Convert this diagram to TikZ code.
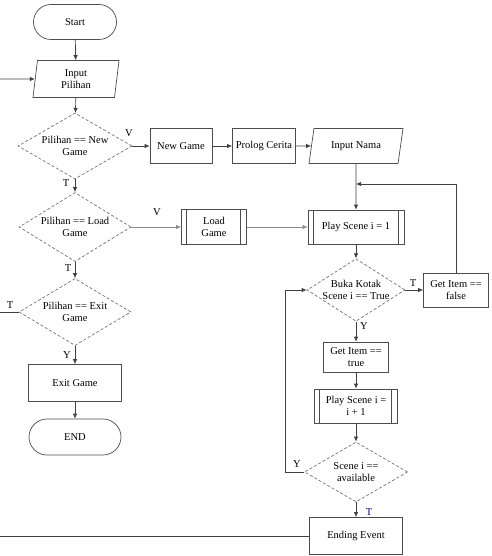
\documentclass[tikz,border=0pt]{standalone}
\usepackage{fontspec}
\setmainfont{Liberation Serif}
\usetikzlibrary{shapes.geometric,shapes.misc,arrows.meta}

\tikzstyle{base}=[draw=black!70, line width=0.7pt, font=\fontsize{10.5}{12}\selectfont, align=center, inner sep=1pt]
\tikzstyle{terminal}=[base, rounded rectangle]
\tikzstyle{process}=[base, rectangle]
\tikzstyle{io}=[base, trapezium, trapezium left angle=78, trapezium right angle=102, trapezium stretches body]
\tikzstyle{decision}=[base, diamond, dash pattern=on 3pt off 2pt, draw=black!55, inner sep=-6pt]
\tikzstyle{predef}=[process, path picture={
	\draw[black!70, line width=0.7pt]
		([xshift=5pt]path picture bounding box.north west) -- ([xshift=5pt]path picture bounding box.south west)
		([xshift=-6pt]path picture bounding box.north east) -- ([xshift=-6pt]path picture bounding box.south east);
}]
\tikzstyle{flow}=[draw=black!75, line width=0.7pt, -{Latex[length=5pt,width=4.5pt]}]
\tikzstyle{branch}=[font=\fontsize{10.5}{12}\selectfont, inner sep=0pt]

\begin{document}
\begin{tikzpicture}[x=1pt, y=-1pt]
	\useasboundingbox (0,0) rectangle (491,556);

	% left column
	\node[terminal, minimum width=85pt, minimum height=35pt] (start) at (75,22) {Start};
	\node[io, minimum width=86pt, minimum height=37pt] (inpil) at (76,79) {Input\\Pilihan};
	\node[decision, minimum width=114pt, minimum height=66pt] (d1) at (75,146) {Pilihan == New\\Game};
	\node[decision, minimum width=112pt, minimum height=69pt] (d2) at (75,227) {Pilihan == Load\\Game};
	\node[decision, minimum width=112pt, minimum height=67pt] (d3) at (75,312) {Pilihan == Exit\\Game};
	\node[process, minimum width=93pt, minimum height=37pt] (exitg) at (75,383) {Exit Game};
	\node[terminal, minimum width=94pt, minimum height=36pt] (endn) at (75,437) {END};

	% top row
	\node[process, minimum width=62pt, minimum height=35pt] (newg) at (181,146) {New Game};
	\node[process, minimum width=63pt, minimum height=35pt] (prolog) at (264,146) {Prolog Cerita};
	\node[io, trapezium left angle=66, trapezium right angle=114, minimum width=94pt, minimum height=35pt] (innama) at (356,146) {Input Nama};
	\node[predef, minimum width=65pt, minimum height=35pt] (loadg) at (214,227) {Load\\Game};

	% right column
	\node[predef, minimum width=96pt, minimum height=34pt] (play1) at (356,227) {Play Scene i = 1};
	\node[decision, minimum width=98pt, minimum height=60pt] (d4) at (356,290) {Buka Kotak\\Scene i == True};
	\node[process, minimum width=65pt, minimum height=34pt] (itemf) at (456,290) {Get Item ==\\false};
	\node[process, minimum width=65pt, minimum height=30pt] (itemt) at (356,357) {Get Item ==\\true};
	\node[predef, minimum width=83pt, minimum height=34pt] (playn) at (356,406) {Play Scene i =\\i + 1};
	\node[decision, minimum width=103pt, minimum height=60pt] (d5) at (356,472) {Scene i ==\\available};
	\node[process, minimum width=93pt, minimum height=37pt] (ending) at (356,536) {Ending Event};

	\coordinate (in0) at (0,79);
	\coordinate (out1) at (0,312);
	\coordinate (out2) at (0,536);
	\coordinate (join1) at (356,184);
	\coordinate (loop1) at (285,472);

	\draw[flow] (start) -- (inpil);
	\draw[flow] (in0) -- (inpil);
	\draw[flow] (inpil) -- (d1);
	\draw[flow] (d1) -- (newg);
	\draw[flow] (newg) -- (prolog);
	\draw[flow] (prolog) -- (innama);
	\draw[flow] (innama) -- (play1);
	\draw[flow] (d1) -- (d2);
	\draw[flow, draw=black!45] (d2) -- (loadg);
	\draw[flow, draw=black!45] (loadg) -- (play1);
	\draw[flow] (d2) -- (d3);
	\draw[draw=black!75, line width=0.7pt] (d3) -- (out1);
	\draw[flow] (d3) -- (exitg);
	\draw[flow] (exitg) -- (endn);
	\draw[flow] (play1) -- (d4);
	\draw[flow] (d4) -- (itemf);
	\draw[flow] (itemf) |- (join1);
	\draw[flow] (d4) -- (itemt);
	\draw[flow] (itemt) -- (playn);
	\draw[flow] (playn) -- (d5);
	\draw[flow] (d5) -- (loop1) |- (d4);
	\draw[flow] (d5) -- (ending);
	\draw[draw=black!75, line width=0.7pt] (ending) -- (out2);

	% branch labels
	\node[branch] (d1v) at (129,133) {V};
	\node[branch] (d1t) at (66,183) {T};
	\node[branch] (d2v) at (157,212) {V};
	\node[branch] (d2t) at (68,268) {T};
	\node[branch] (d3t) at (10,305) {T};
	\node[branch] (d3y) at (67,355) {Y};
	\node[branch] (d4t) at (413,283) {T};
	\node[branch] (d4y) at (364,326) {Y};
	\node[branch] (d5y) at (297,464) {Y};
	\node[branch, text=blue!60!black] (d5t) at (369,512) {T};
\end{tikzpicture}
\end{document}
